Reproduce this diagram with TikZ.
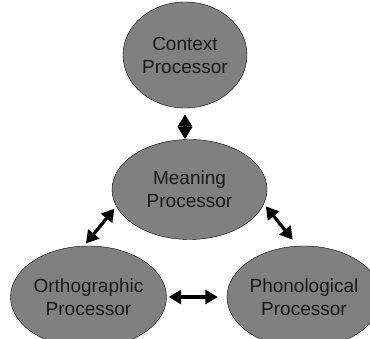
\documentclass[tikz,border=0pt]{standalone}
\usepackage{fontspec}
\setmainfont{Liberation Sans}
\usepackage{tikz}
\usetikzlibrary{shapes.geometric, arrows.meta}
\definecolor{processorGray}{RGB}{128,128,128}
\tikzstyle{diagram} = [x = 1pt, y = -1pt]
\tikzstyle{processorStyle} = [ellipse, draw=black, fill=processorGray, inner sep=0pt, align=center, font=\fontsize{19}{23}\selectfont, text=black!90]
\tikzstyle{linkArrow} = [{Triangle[length=12.5pt, width=14pt]}-{Triangle[length=12.5pt, width=14pt]}, line width=3.2pt]

\begin{document}
\begin{tikzpicture}[diagram]
          \useasboundingbox (0,0) rectangle (370,339);
          \clip (0,0) rectangle (370,339);
          \node [processorStyle, minimum width=124pt, minimum height=106pt] (context) at (185,55) {Context\\Processor};
          \node [processorStyle, minimum width=155pt, minimum height=100pt] (meaning) at (189.5,189.5) {Meaning\\Processor};
          \node [processorStyle, minimum width=156pt, minimum height=102pt] (ortho) at (88.5,297) {Orthographic\\Processor};
          \node [processorStyle, minimum width=154pt, minimum height=102pt] (phono) at (304,297) {Phonological\\Processor};

          \draw [linkArrow, shorten <=6pt] (context.south) -- (context.south |- meaning.north);
          \draw [linkArrow, shorten <=3pt, shorten >=3pt] (meaning.193) -- (ortho.95);
          \draw [linkArrow, shorten <=3pt, shorten >=8pt] (meaning.349) -- (phono.97);
          \draw [linkArrow, shorten <=2pt, shorten >=9pt] (ortho.east) -- (phono.west);
        \end{tikzpicture}
\end{document}
